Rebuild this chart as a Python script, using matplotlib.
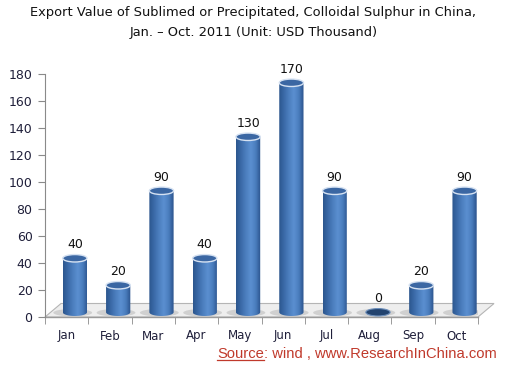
import numpy as np
import matplotlib
matplotlib.use("Agg")
import matplotlib.pyplot as plt
from matplotlib.colors import LinearSegmentedColormap
from matplotlib.patches import Polygon, Ellipse

# Chart data
months = ["Jan", "Feb", "Mar", "Apr", "May", "Jun", "Jul", "Aug", "Sep", "Oct"]
values = [40, 20, 90, 40, 130, 170, 90, 0, 20, 90]
yticks = [0, 20, 40, 60, 80, 100, 120, 140, 160, 180]

title = "Export Value of Sublimed or Precipitated, Colloidal Sulphur in China,\nJan. \u2013 Oct. 2011 (Unit: USD Thousand)"
source_rest = ": wind , www.ResearchInChina.com"

# 3D look parameters (category / value units)
bar_w = 0.56
shift_x = 0.19       # bars sit in the middle of the floor depth
base_y = 3.5
ell_h = 5.5
depth_x, depth_y = 0.37, 10.0

cyl = LinearSegmentedColormap.from_list(
    "cyl", ["#2c568e", "#3b6aa8", "#4c7fbf", "#5b8fd0", "#4a7dbd", "#2a528c"])
src_color = "#c0392b"

fig = plt.figure(figsize=(5.07, 3.67), dpi=100)
ax = fig.add_axes([45 / 507, 50 / 367, 433 / 507, 243 / 367])
ax.set_xlim(-0.5, 9.5)
ax.set_ylim(0, 180)

# floor
floor = Polygon([(-0.5, 0), (9.5, 0), (9.5 + depth_x, depth_y), (-0.5 + depth_x, depth_y)],
                closed=True, facecolor="#eeeeee", edgecolor="#b5b5b5", lw=0.8,
                clip_on=False, zorder=1)
ax.add_patch(floor)
ax.plot([-0.5, 9.5], [0, 0], color="#9a9a9a", lw=1.0, clip_on=False, zorder=2)

grad = np.linspace(0, 1, 64).reshape(1, -1)
t = np.linspace(np.pi, 2 * np.pi, 40)

for i, v in enumerate(values):
    cx = i + shift_x
    x0, x1 = cx - bar_w / 2, cx + bar_w / 2
    top = base_y + v
    # shadow on the floor
    ax.add_patch(Ellipse((cx - 0.05, base_y - 0.3), bar_w * 1.6, ell_h * 1.0,
                         facecolor="#c4c4c4", edgecolor="none", alpha=0.7, zorder=2))
    if v > 0:
        bx = cx + bar_w / 2 * np.cos(t)
        by = base_y + ell_h / 2 * np.sin(t)
        outline = np.vstack([np.column_stack([bx, by]), [[x1, top], [x0, top]]])
        clip = Polygon(outline, closed=True, transform=ax.transData)
        im = ax.imshow(grad, cmap=cyl, aspect="auto", extent=[x0, x1, base_y - ell_h / 2, top],
                       zorder=3, interpolation="bilinear")
        im.set_clip_path(clip)
        ax.add_patch(Ellipse((cx, top), bar_w, ell_h, facecolor="#3b67a3",
                             edgecolor="#d6e2f2", lw=1.0, zorder=4))
    else:
        ax.add_patch(Ellipse((cx, top), bar_w, ell_h, facecolor="#22436f",
                             edgecolor="#6d8fbb", lw=0.8, zorder=4))
    ax.annotate(str(v), (cx, top + ell_h / 2), xytext=(0, 2.5), textcoords="offset points",
                ha="center", va="bottom", fontsize=9, color="#111111", zorder=5)

ax.set_xlim(-0.5, 9.5)
ax.set_ylim(0, 180)

ax.set_yticks(yticks)
ax.set_yticklabels([str(y) for y in yticks], fontsize=9, color="#1f1f3a")
ax.set_xticks(range(len(months)))
ax.set_xticklabels(months, fontsize=8.5, color="#1f1f3a")
ax.set_xticks(np.arange(-0.5, 10, 1), minor=True)
ax.tick_params(axis="x", which="major", length=0, pad=9)
ax.tick_params(axis="x", which="minor", length=5, color="#8a8a8a", direction="out")
ax.tick_params(axis="y", length=5, color="#8a8a8a", direction="out", pad=4)

for s in ["top", "right", "bottom"]:
    ax.spines[s].set_visible(False)
ax.spines["left"].set_color("#8a8a8a")

fig.text(0.5, 0.985, title, ha="center", va="top", fontsize=9.4, color="#111111",
         linespacing=1.75)

# source line, right aligned, with underlined "Source"
rest = fig.text(497 / 507, 9 / 367, source_rest, ha="right", va="baseline",
                fontsize=10.6, color=src_color, family="Liberation Sans")
fig.canvas.draw()
r = fig.canvas.get_renderer()
bb = rest.get_window_extent(r)
W = fig.bbox.width
src1 = fig.text(bb.x0 / W, 9 / 367, "Source", ha="right", va="baseline", fontsize=10.6,
                color=src_color, family="Liberation Sans")
bs = src1.get_window_extent(r)
fig.add_artist(plt.Line2D([bs.x0 / W, bs.x1 / W], [7.3 / 367, 7.3 / 367],
                          color=src_color, lw=0.9))

fig.savefig("out.png", dpi=100)
